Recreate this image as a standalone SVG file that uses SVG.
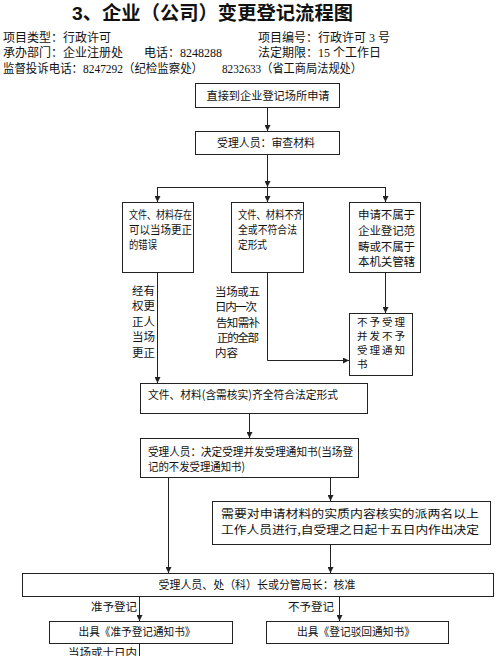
<svg xmlns="http://www.w3.org/2000/svg" width="500" height="656" viewBox="0 0 500 656">
<defs>
<style>
.bx{fill:#fff;stroke:#222;stroke-width:1}
.ln{fill:none;stroke:#222;stroke-width:1}
.t{font-family:"Liberation Serif","Noto Sans CJK SC",serif;font-size:12px;fill:#111}
.s{font-family:"Noto Sans CJK SC",sans-serif;font-size:11.5px;fill:#111}
.m{font-family:"Noto Sans CJK SC",sans-serif;font-size:10.5px;fill:#111}
.c{text-anchor:middle}
.r{text-anchor:end}
.h{font-family:"Liberation Sans","Noto Sans CJK SC",sans-serif;font-size:19px;font-weight:bold;fill:#111}
</style>
<marker id="ah" viewBox="0 0 8 8" refX="8" refY="4" markerWidth="6" markerHeight="6" markerUnits="userSpaceOnUse" orient="auto"><path d="M0,0 L8,4 L0,8 z" fill="#222"/></marker>
</defs>
<rect width="500" height="656" fill="#fff"/>

<g id="header">
<text class="h" x="72" y="20" textLength="281" lengthAdjust="spacingAndGlyphs">3、企业（公司）变更登记流程图</text>
<text class="t" x="3" y="42">项目类型：行政许可</text>
<text class="t" x="258" y="42">项目编号：行政许可 3 号</text>
<text class="t" x="3" y="57">承办部门：企业注册处</text>
<text class="t" x="144" y="57">电话：8248288</text>
<text class="t" x="258" y="57">法定期限：15 个工作日</text>
<text class="t" x="3" y="73" textLength="200" lengthAdjust="spacingAndGlyphs">监督投诉电话：8247292（纪检监察处）</text>
<text class="t" x="222" y="73" textLength="140" lengthAdjust="spacingAndGlyphs">8232633（省工商局法规处）</text>
</g>

<g id="connectors">
<path class="ln" d="M267.5,107 V131" marker-end="url(#ah)"/>
<path class="ln" d="M267.5,154 V187" marker-end="url(#ah)"/>
<path class="ln" d="M157.5,187.5 H385.5"/>
<path class="ln" d="M157.5,187 V202" marker-end="url(#ah)"/>
<path class="ln" d="M267.5,187 V202" marker-end="url(#ah)"/>
<path class="ln" d="M385.5,187 V202" marker-end="url(#ah)"/>
<path class="ln" d="M157.5,272 V383" marker-end="url(#ah)"/>
<path class="ln" d="M267.5,272 V360.5 H349" marker-end="url(#ah)"/>
<path class="ln" d="M385.5,272 V313" marker-end="url(#ah)"/>
<path class="ln" d="M249.5,413 V438" marker-end="url(#ah)"/>
<path class="ln" d="M168.5,477 V573" marker-end="url(#ah)"/>
<path class="ln" d="M330.5,477 V501" marker-end="url(#ah)"/>
<path class="ln" d="M330.5,544 V573" marker-end="url(#ah)"/>
<path class="ln" d="M139.5,596 V621" marker-end="url(#ah)"/>
<path class="ln" d="M339.5,596 V621" marker-end="url(#ah)"/>
<path class="ln" d="M139.5,643 V656"/>
<text class="s r" x="155" y="295">经有</text>
<text class="s r" x="155" y="310">权更</text>
<text class="s r" x="155" y="326">正人</text>
<text class="s r" x="155" y="341">当场</text>
<text class="s r" x="155" y="357">更正</text>
<text class="s" x="215" y="296" textLength="45" lengthAdjust="spacing">当场或五</text>
<text class="s" x="215" y="311" textLength="42" lengthAdjust="spacing">日内一次</text>
<text class="s" x="216" y="327" textLength="44" lengthAdjust="spacing">告知需补</text>
<text class="s" x="217" y="342" textLength="42" lengthAdjust="spacing">正的全部</text>
<text class="s" x="215" y="357">内容</text>
<text class="s r" x="137" y="611">准予登记</text>
<text class="s r" x="334" y="611">不予登记</text>
<text class="s r" x="137" y="657">当场或十日内</text>
</g>

<g id="n1">
<rect class="bx" x="195.5" y="83.5" width="144" height="24"/>
<text class="s c" x="268" y="100" textLength="123" lengthAdjust="spacingAndGlyphs">直接到企业登记场所申请</text>
</g>
<g id="n2">
<rect class="bx" x="195.5" y="131.5" width="144" height="23"/>
<text class="s c" x="266" y="147" textLength="98" lengthAdjust="spacingAndGlyphs">受理人员：审查材料</text>
</g>
<g id="n3">
<rect class="bx" x="122.5" y="202.5" width="71" height="70"/>
<text class="s" x="129" y="219" textLength="63" lengthAdjust="spacingAndGlyphs">文件、材料存在</text>
<text class="s" x="129" y="234" textLength="63" lengthAdjust="spacingAndGlyphs">可以当场更正</text>
<text class="s" x="129" y="249" textLength="28" lengthAdjust="spacingAndGlyphs">的错误</text>
</g>
<g id="n4">
<rect class="bx" x="231.5" y="202.5" width="72" height="70"/>
<text class="s" x="238" y="219" textLength="65" lengthAdjust="spacingAndGlyphs">文件、材料不齐</text>
<text class="s" x="238" y="234" textLength="59" lengthAdjust="spacingAndGlyphs">全或不符合法</text>
<text class="s" x="238" y="249" textLength="29" lengthAdjust="spacingAndGlyphs">定形式</text>
</g>
<g id="n5">
<rect class="bx" x="349.5" y="202.5" width="71" height="70"/>
<text class="s" x="358" y="219" textLength="57" lengthAdjust="spacing">申请不属于</text>
<text class="s" x="358" y="235" textLength="57" lengthAdjust="spacing">企业登记范</text>
<text class="s" x="358" y="251" textLength="57" lengthAdjust="spacing">畴或不属于</text>
<text class="s" x="358" y="266" textLength="57" lengthAdjust="spacing">本机关管辖</text>
</g>
<g id="n6">
<rect class="bx" x="349.5" y="313.5" width="63" height="62"/>
<text class="m" x="357" y="326" textLength="48" lengthAdjust="spacing">不予受理</text>
<text class="m" x="357" y="340" textLength="48" lengthAdjust="spacing">并发不予</text>
<text class="m" x="357" y="354" textLength="48" lengthAdjust="spacing">受理通知</text>
<text class="m" x="357" y="368">书</text>
</g>
<g id="n7">
<rect class="bx" x="140.5" y="383.5" width="227" height="30"/>
<text class="s" x="148" y="399" textLength="190" lengthAdjust="spacingAndGlyphs">文件、材料(含需核实)齐全符合法定形式</text>
</g>
<g id="n8">
<rect class="bx" x="140.5" y="438.5" width="218" height="39"/>
<text class="s" x="148" y="456" textLength="205" lengthAdjust="spacingAndGlyphs">受理人员：决定受理并发受理通知书(当场登</text>
<text class="s" x="148" y="471" textLength="97" lengthAdjust="spacingAndGlyphs">记的不发受理通知书)</text>
</g>
<g id="n9">
<rect class="bx" x="212.5" y="501.5" width="278" height="43"/>
<text class="s" x="221" y="518" textLength="258" lengthAdjust="spacingAndGlyphs">需要对申请材料的实质内容核实的派两名以上</text>
<text class="s" x="221" y="534" textLength="258" lengthAdjust="spacingAndGlyphs">工作人员进行,自受理之日起十五日内作出决定</text>
</g>
<g id="n10">
<rect class="bx" x="22.5" y="573.5" width="471" height="23"/>
<text class="s c" x="257" y="589" textLength="197" lengthAdjust="spacingAndGlyphs">受理人员、处（科）长或分管局长：核准</text>
</g>
<g id="n11">
<rect class="bx" x="49.5" y="621.5" width="183" height="22"/>
<text class="s c" x="137" y="636" textLength="117" lengthAdjust="spacingAndGlyphs">出具《准予登记通知书》</text>
</g>
<g id="n12">
<rect class="bx" x="266.5" y="621.5" width="182" height="22"/>
<text class="s c" x="356" y="636" textLength="118" lengthAdjust="spacingAndGlyphs">出具《登记驳回通知书》</text>
</g>
</svg>
